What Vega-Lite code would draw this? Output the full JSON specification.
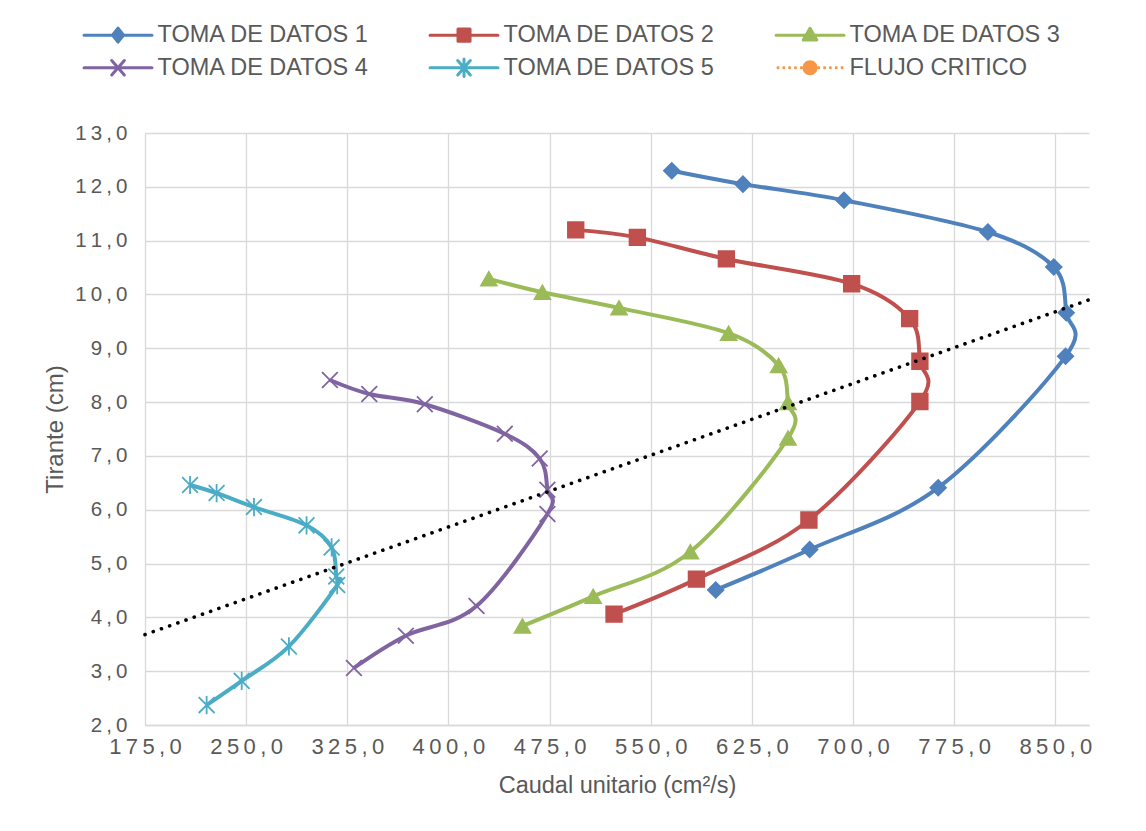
{
  "$schema": "https://vega.github.io/schema/vega-lite/v6.json",
  "autosize": {"type": "none"},
  "width": 944,
  "height": 592,
  "padding": {"left": 145, "top": 133, "right": 57, "bottom": 106},
  "background": "#ffffff",
  "config": {
    "view": {"stroke": null},
    "font": "Liberation Sans"
  },
  "datasets": {
    "curvas": [
      {"serie": "TOMA DE DATOS 1", "i": 1, "q": 565.6, "y": 12.30},
      {"serie": "TOMA DE DATOS 1", "i": 2, "q": 618.4, "y": 12.05},
      {"serie": "TOMA DE DATOS 1", "i": 3, "q": 693.3, "y": 11.75},
      {"serie": "TOMA DE DATOS 1", "i": 4, "q": 800.0, "y": 11.16},
      {"serie": "TOMA DE DATOS 1", "i": 5, "q": 848.9, "y": 10.51},
      {"serie": "TOMA DE DATOS 1", "i": 6, "q": 858.1, "y": 9.66},
      {"serie": "TOMA DE DATOS 1", "i": 7, "q": 857.6, "y": 8.85},
      {"serie": "TOMA DE DATOS 1", "i": 8, "q": 763.2, "y": 6.41},
      {"serie": "TOMA DE DATOS 1", "i": 9, "q": 667.9, "y": 5.26},
      {"serie": "TOMA DE DATOS 1", "i": 10, "q": 598.2, "y": 4.51},
      {"serie": "TOMA DE DATOS 2", "i": 1, "q": 494.4, "y": 11.20},
      {"serie": "TOMA DE DATOS 2", "i": 2, "q": 540.1, "y": 11.06},
      {"serie": "TOMA DE DATOS 2", "i": 3, "q": 606.1, "y": 10.66},
      {"serie": "TOMA DE DATOS 2", "i": 4, "q": 699.0, "y": 10.20},
      {"serie": "TOMA DE DATOS 2", "i": 5, "q": 742.0, "y": 9.55},
      {"serie": "TOMA DE DATOS 2", "i": 6, "q": 749.6, "y": 8.76},
      {"serie": "TOMA DE DATOS 2", "i": 7, "q": 749.6, "y": 8.01},
      {"serie": "TOMA DE DATOS 2", "i": 8, "q": 667.3, "y": 5.81},
      {"serie": "TOMA DE DATOS 2", "i": 9, "q": 583.9, "y": 4.71},
      {"serie": "TOMA DE DATOS 2", "i": 10, "q": 522.8, "y": 4.06},
      {"serie": "TOMA DE DATOS 3", "i": 1, "q": 430.0, "y": 10.29},
      {"serie": "TOMA DE DATOS 3", "i": 2, "q": 469.7, "y": 10.04},
      {"serie": "TOMA DE DATOS 3", "i": 3, "q": 526.5, "y": 9.75},
      {"serie": "TOMA DE DATOS 3", "i": 4, "q": 607.8, "y": 9.28},
      {"serie": "TOMA DE DATOS 3", "i": 5, "q": 644.9, "y": 8.68},
      {"serie": "TOMA DE DATOS 3", "i": 6, "q": 651.8, "y": 7.99},
      {"serie": "TOMA DE DATOS 3", "i": 7, "q": 651.8, "y": 7.33},
      {"serie": "TOMA DE DATOS 3", "i": 8, "q": 579.4, "y": 5.22},
      {"serie": "TOMA DE DATOS 3", "i": 9, "q": 507.3, "y": 4.39},
      {"serie": "TOMA DE DATOS 3", "i": 10, "q": 454.9, "y": 3.84},
      {"serie": "TOMA DE DATOS 4", "i": 1, "q": 312.1, "y": 8.41},
      {"serie": "TOMA DE DATOS 4", "i": 2, "q": 341.3, "y": 8.15},
      {"serie": "TOMA DE DATOS 4", "i": 3, "q": 382.5, "y": 7.96},
      {"serie": "TOMA DE DATOS 4", "i": 4, "q": 441.8, "y": 7.41},
      {"serie": "TOMA DE DATOS 4", "i": 5, "q": 467.7, "y": 6.95},
      {"serie": "TOMA DE DATOS 4", "i": 6, "q": 473.4, "y": 6.37},
      {"serie": "TOMA DE DATOS 4", "i": 7, "q": 473.4, "y": 5.92},
      {"serie": "TOMA DE DATOS 4", "i": 8, "q": 420.8, "y": 4.21},
      {"serie": "TOMA DE DATOS 4", "i": 9, "q": 368.4, "y": 3.66},
      {"serie": "TOMA DE DATOS 4", "i": 10, "q": 329.9, "y": 3.06},
      {"serie": "TOMA DE DATOS 5", "i": 1, "q": 208.4, "y": 6.46},
      {"serie": "TOMA DE DATOS 5", "i": 2, "q": 228.1, "y": 6.31},
      {"serie": "TOMA DE DATOS 5", "i": 3, "q": 255.8, "y": 6.05},
      {"serie": "TOMA DE DATOS 5", "i": 4, "q": 294.8, "y": 5.71},
      {"serie": "TOMA DE DATOS 5", "i": 5, "q": 313.4, "y": 5.30},
      {"serie": "TOMA DE DATOS 5", "i": 6, "q": 316.8, "y": 4.76},
      {"serie": "TOMA DE DATOS 5", "i": 7, "q": 317.5, "y": 4.60},
      {"serie": "TOMA DE DATOS 5", "i": 8, "q": 281.7, "y": 3.46},
      {"serie": "TOMA DE DATOS 5", "i": 9, "q": 246.7, "y": 2.82},
      {"serie": "TOMA DE DATOS 5", "i": 10, "q": 220.7, "y": 2.37}
    ],
    "critico": [
      {"serie": "FLUJO CRITICO", "i": 1, "q": 175, "y": 3.68},
      {"serie": "FLUJO CRITICO", "i": 2, "q": 875, "y": 9.90}
    ]
  },
  "layer": [
    {
      "data": {"name": "curvas"},
      "mark": {"type": "line", "interpolate": "cardinal", "tension": 0, "strokeWidth": 4},
      "encoding": {
        "x": {"field": "q", "type": "quantitative"},
        "y": {"field": "y", "type": "quantitative"},
        "order": {"field": "i", "type": "quantitative"},
        "color": {"field": "serie", "type": "nominal"}
      }
    },
    {
      "data": {"name": "curvas"},
      "mark": {"type": "point", "filled": true, "opacity": 1, "strokeWidth": 1.8},
      "encoding": {
        "x": {"field": "q", "type": "quantitative"},
        "y": {"field": "y", "type": "quantitative"},
        "color": {"field": "serie", "type": "nominal"},
        "stroke": {
          "field": "serie", "type": "nominal", "legend": null,
          "scale": {
            "domain": ["TOMA DE DATOS 1", "TOMA DE DATOS 2", "TOMA DE DATOS 3", "TOMA DE DATOS 4", "TOMA DE DATOS 5"],
            "range": ["#4F81BD", "#C0504D", "#9BBB59", "#8064A2", "#4BACC6"]
          }
        },
        "shape": {
          "field": "serie", "type": "nominal", "legend": null,
          "scale": {
            "domain": ["TOMA DE DATOS 1", "TOMA DE DATOS 2", "TOMA DE DATOS 3", "TOMA DE DATOS 4", "TOMA DE DATOS 5"],
            "range": ["diamond", "square", "triangle-up", "M-1,-1L1,1M-1,1L1,-1", "M-1,-1L1,1M-1,1L1,-1M0,-1.15L0,1.15"]
          }
        },
        "size": {
          "field": "serie", "type": "nominal", "legend": null,
          "scale": {
            "domain": ["TOMA DE DATOS 1", "TOMA DE DATOS 2", "TOMA DE DATOS 3", "TOMA DE DATOS 4", "TOMA DE DATOS 5"],
            "range": [240, 250, 340, 270, 300]
          }
        }
      }
    },
    {
      "data": {"name": "critico"},
      "mark": {"type": "line", "strokeWidth": 3.6, "strokeDash": [0.1, 8.6], "strokeCap": "round"},
      "encoding": {
        "x": {"field": "q", "type": "quantitative"},
        "y": {"field": "y", "type": "quantitative"},
        "order": {"field": "i", "type": "quantitative"},
        "color": {"value": "#000000"}
      }
    }
  ],
  "encoding": {
    "x": {
      "field": "q", "type": "quantitative",
      "scale": {"domain": [175, 875], "nice": false, "zero": false},
      "axis": {
        "values": [175, 250, 325, 400, 475, 550, 625, 700, 775, 850],
        "grid": true, "gridColor": "#d9d9d9", "gridWidth": 1.3,
        "domain": true, "domainColor": "#d9d9d9", "domainWidth": 1.5,
        "ticks": false, "labelOverlap": false, "labelFlush": false, "labelBound": false,
        "labelFont": "Liberation Sans", "labelFontSize": 22, "labelColor": "#595959", "labelPadding": 11,
        "labelExpr": "floor(datum.value/100) + '\u2009' + (floor(datum.value/10) % 10) + '\u2009' + (datum.value % 10) + '\u2009,\u20090'",
        "title": "Caudal unitario (cm²/s)",
        "titleFont": "Liberation Sans", "titleFontSize": 23.5, "titleFontWeight": "normal", "titleColor": "#595959", "titlePadding": 16
      }
    },
    "y": {
      "field": "y", "type": "quantitative",
      "scale": {"domain": [2, 13], "nice": false, "zero": false},
      "axis": {
        "values": [2, 3, 4, 5, 6, 7, 8, 9, 10, 11, 12, 13],
        "grid": true, "gridColor": "#d9d9d9", "gridWidth": 1.3,
        "domain": false, "ticks": false, "labelOverlap": false, "labelFlush": false,
        "labelFont": "Liberation Sans", "labelFontSize": 20.5, "labelColor": "#595959", "labelPadding": 18,
        "labelExpr": "(datum.value >= 10 ? floor(datum.value/10) + '\u2009' + (datum.value % 10) : '' + datum.value) + '\u2009,\u20090'",
        "title": "Tirante (cm)",
        "titleFont": "Liberation Sans", "titleFontSize": 24, "titleFontWeight": "normal", "titleColor": "#595959", "titlePadding": 7
      }
    },
    "color": {
      "field": "serie", "type": "nominal",
      "scale": {
        "domain": ["TOMA DE DATOS 1", "TOMA DE DATOS 2", "TOMA DE DATOS 3", "TOMA DE DATOS 4", "TOMA DE DATOS 5", "FLUJO CRITICO"],
        "range": ["#4F81BD", "#C0504D", "#9BBB59", "#8064A2", "#4BACC6", "#F79646"]
      },
      "legend": {
        "title": null,
        "orient": "none", "legendX": -63, "legendY": -110, "direction": "horizontal",
        "columns": 3, "gridAlign": "all", "columnPadding": 58, "rowPadding": 8,
        "symbolSize": 377, "symbolStrokeWidth": 3, "labelOffset": 52, "labelLimit": 500,
        "labelFont": "Liberation Sans", "labelFontSize": 23.5, "labelColor": "#595959",
        "encode": {
          "symbols": {
            "update": {
              "shape": {"signal": "datum.value === 'TOMA DE DATOS 1' ? 'M-1,0H6M2.5,-0.72L3.08,0L2.5,0.72L1.92,0Z' : datum.value === 'TOMA DE DATOS 2' ? 'M-1,0H6M1.88,-0.62H3.12V0.62H1.88Z' : datum.value === 'TOMA DE DATOS 3' ? 'M-1,0H6M2.5,-0.7L3.2,0.5H1.8Z' : datum.value === 'TOMA DE DATOS 4' ? 'M-1,0H6M1.85,-0.75L3.15,0.75M1.85,0.75L3.15,-0.75' : datum.value === 'TOMA DE DATOS 5' ? 'M-1,0H6M1.85,-0.75L3.15,0.75M1.85,0.75L3.15,-0.75M2.5,-0.9V0.9' : 'M-0.86,-0.06h0.12v0.12h-0.12ZM-0.26,-0.06h0.12v0.12h-0.12ZM0.34,-0.06h0.12v0.12h-0.12ZM0.94,-0.06h0.12v0.12h-0.12ZM1.54,-0.06h0.12v0.12h-0.12ZM3.34,-0.06h0.12v0.12h-0.12ZM3.94,-0.06h0.12v0.12h-0.12ZM4.54,-0.06h0.12v0.12h-0.12ZM5.14,-0.06h0.12v0.12h-0.12ZM5.74,-0.06h0.12v0.12h-0.12ZM3.2,0L3.11,0.35L2.85,0.61L2.5,0.7L2.15,0.61L1.89,0.35L1.8,0L1.89,-0.35L2.15,-0.61L2.5,-0.7L2.85,-0.61L3.11,-0.35Z'"},
              "fill": {"signal": "scale('color', datum.value)"},
              "stroke": {"signal": "datum.value === 'FLUJO CRITICO' ? '#000000' : scale('color', datum.value)"},
              "strokeCap": {"value": "round"},
              "strokeJoin": {"value": "round"},
              "strokeWidth": {"signal": "datum.value === 'FLUJO CRITICO' ? 1.6 : 3"},
              "size": {"value": 377},
              "opacity": {"value": 1},
              "fillOpacity": {"value": 1},
              "strokeOpacity": {"value": 1}
            }
          }
        }
      }
    }
  }
}
